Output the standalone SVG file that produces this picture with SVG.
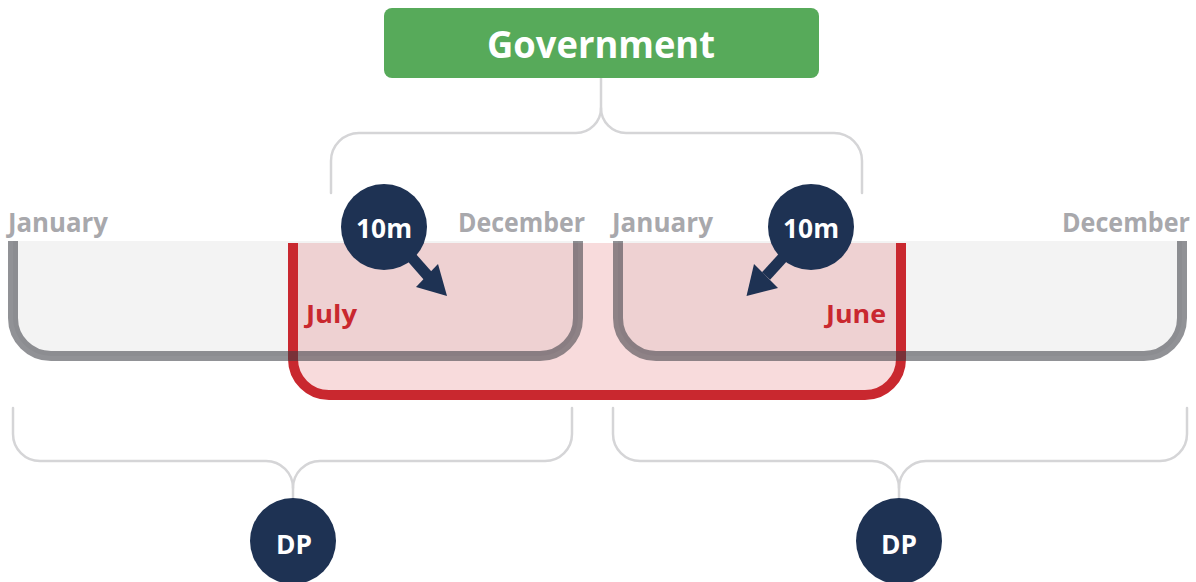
<svg xmlns="http://www.w3.org/2000/svg" width="1196" height="582" viewBox="0 0 1196 582">
  <style>
    .conn { fill: none; stroke: #d5d5d7; stroke-width: 2.5; stroke-linecap: round; }
    .month { font-family: "Open Sans", "Liberation Sans", sans-serif; font-weight: 700; font-size: 26px; fill: #a8a8ac; }
    .red { font-family: "Open Sans", "Liberation Sans", sans-serif; font-weight: 700; font-size: 25px; fill: #c9282f; }
    .badge { fill: #1e3253; }
    .badgetxt { font-family: "Open Sans", "Liberation Sans", sans-serif; font-weight: 700; font-size: 27px; fill: #ffffff; text-anchor: middle; }
    .gfill { fill: #f3f3f3; stroke: none; }
    .gline { fill: none; stroke: #37383f; stroke-opacity: 0.55; stroke-width: 10; }
  </style>

  <!-- timeline bands -->
  <g id="year-left-fill">
    <path class="gfill" d="M13,241 V318 A38,38 0 0 0 51,356 H540 A38,38 0 0 0 578,318 V241 Z"/>
  </g>
  <g id="year-right-fill">
    <path class="gfill" d="M618,241 V318 A38,38 0 0 0 656,356 H1144 A38,38 0 0 0 1182,318 V241 Z"/>
  </g>
  <g id="fiscal-year">
    <path d="M293,243 V359 A36,36 0 0 0 329,395 H865 A36,36 0 0 0 901,359 V243 Z" fill="#d62832" fill-opacity="0.17"/>
    <path d="M293,243 V359 A36,36 0 0 0 329,395 H865 A36,36 0 0 0 901,359 V243" fill="none" stroke="#c9282f" stroke-width="10"/>
  </g>
  <g id="year-left">
    <path class="gline" d="M13,241 V318 A38,38 0 0 0 51,356 H540 A38,38 0 0 0 578,318 V241"/>
  </g>
  <g id="year-right">
    <path class="gline" d="M618,241 V318 A38,38 0 0 0 656,356 H1144 A38,38 0 0 0 1182,318 V241"/>
  </g>

  <!-- connectors -->
  <g id="connectors">
    <path class="conn" d="M601,78 V108 A25,25 0 0 1 576,133 H359 A28,28 0 0 0 331,161 V193"/>
    <path class="conn" d="M601,108 A25,25 0 0 0 626,133 H834 A28,28 0 0 1 862,161 V193"/>
    <path class="conn" d="M13,408 V434 A27,27 0 0 0 40,461 H266 A27,27 0 0 1 293,488 V498"/>
    <path class="conn" d="M572,408 V434 A27,27 0 0 1 545,461 H320 A27,27 0 0 0 293,488"/>
    <path class="conn" d="M613,408 V434 A27,27 0 0 0 640,461 H872 A27,27 0 0 1 899,488 V498"/>
    <path class="conn" d="M1187,408 V434 A27,27 0 0 1 1160,461 H926 A27,27 0 0 0 899,488"/>
  </g>

  <!-- labels -->
  <g id="labels">
    <text class="month" x="8" y="232" textLength="100" lengthAdjust="spacingAndGlyphs">January</text>
    <text class="month" x="458" y="232" textLength="127" lengthAdjust="spacingAndGlyphs">December</text>
    <text class="month" x="612" y="232" textLength="101" lengthAdjust="spacingAndGlyphs">January</text>
    <text class="month" x="1062" y="232" textLength="128" lengthAdjust="spacingAndGlyphs">December</text>
    <text class="red" x="306" y="323" textLength="51" lengthAdjust="spacingAndGlyphs">July</text>
    <text class="red" x="826" y="323" textLength="60" lengthAdjust="spacingAndGlyphs">June</text>
  </g>

  <g id="government">
    <rect x="384" y="8" width="435" height="70" rx="8" fill="#57aa5a"/>
    <text x="487" y="58" font-family="'Open Sans', 'Liberation Sans', sans-serif" font-weight="700" font-size="38" fill="#ffffff" textLength="228" lengthAdjust="spacingAndGlyphs">Government</text>
  </g>

  <g id="payment-left">
    <line x1="398" y1="242" x2="428" y2="276" stroke="#1e3253" stroke-width="11"/>
    <polygon class="badge" points="447,296 416,287 438,264"/>
    <circle class="badge" cx="384" cy="227" r="43"/>
    <text class="badgetxt" x="384" y="238" textLength="56" lengthAdjust="spacingAndGlyphs">10m</text>
  </g>
  <g id="payment-right">
    <line x1="797" y1="242" x2="766" y2="276" stroke="#1e3253" stroke-width="11"/>
    <polygon class="badge" points="746.5,296 754,264 778,288"/>
    <circle class="badge" cx="811" cy="227" r="43"/>
    <text class="badgetxt" x="811" y="238" textLength="56" lengthAdjust="spacingAndGlyphs">10m</text>
  </g>

  <g id="dp-left">
    <circle class="badge" cx="293" cy="541" r="43"/>
    <text class="badgetxt" x="294" y="554" textLength="36" lengthAdjust="spacingAndGlyphs">DP</text>
  </g>
  <g id="dp-right">
    <circle class="badge" cx="899" cy="541" r="43"/>
    <text class="badgetxt" x="899" y="554" textLength="36" lengthAdjust="spacingAndGlyphs">DP</text>
  </g>
</svg>
